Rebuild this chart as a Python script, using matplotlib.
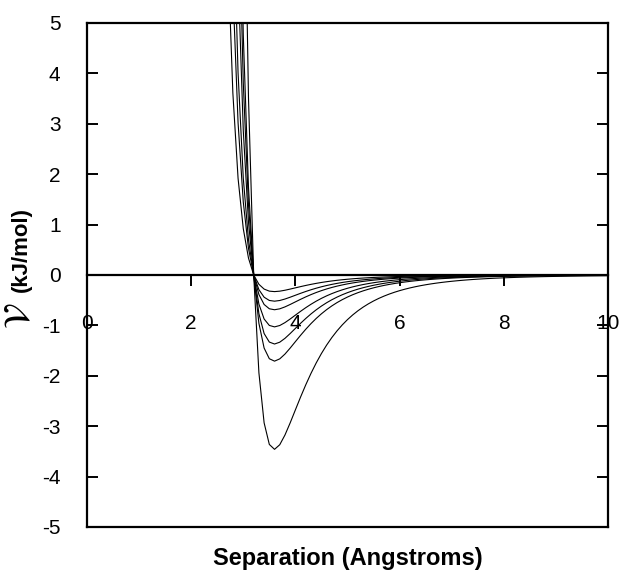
import numpy as np
import matplotlib
matplotlib.use("Agg")
import matplotlib.pyplot as plt

plt.rcParams['font.family'] = ['Liberation Sans', 'DejaVu Sans']
plt.rcParams['mathtext.fontset'] = 'stix'
plt.rcParams['axes.unicode_minus'] = False

# Lennard-Jones pair potentials: shared sigma, one well depth per curve
sigma = 3.2                                           # Angstroms
well_depths = [0.33, 0.52, 0.69, 1.03, 1.37, 1.71, 3.46]  # kJ/mol
r = np.arange(2.5, 10.01, 0.1)

x_ticks = [0, 2, 4, 6, 8, 10]
y_ticks = [-5, -4, -3, -2, -1, 0, 1, 2, 3, 4, 5]

fig = plt.figure(figsize=(6.19, 5.8), dpi=100)
ax = fig.add_axes([0.1405, 0.0914, 0.8417, 0.869])

for eps in well_depths:
    sr6 = (sigma / r) ** 6
    v = 4 * eps * (sr6 ** 2 - sr6)
    ax.plot(r, v, color='black', lw=0.8)

ax.set_xlim(0, 10)
ax.set_ylim(-5, 5)
ax.set_xticks(x_ticks)
ax.set_yticks(y_ticks)

# x axis runs through zero, box frame kept around the plot
ax.spines['bottom'].set_position(('data', 0))
for s in ax.spines.values():
    s.set_linewidth(1.6)
ax.axhline(-5, color='black', lw=1.6, clip_on=False)

ax.tick_params(axis='x', direction='out', length=8, width=1.4,
               pad=20, labelsize=15)
ax.tick_params(axis='y', direction='in', length=8, width=1.4,
               pad=19, labelsize=15, right=True)

ax.set_xlabel('Separation (Angstroms)', fontsize=17, fontweight='bold')
ax.xaxis.set_label_coords(0.5, -0.04)

# y label: large script V followed by the units
ax.set_ylabel('(kJ/mol)', fontsize=16, fontweight='bold')
ax.yaxis.set_label_coords(-0.105, 0.55)
ax.text(-0.129, 0.42, r'$\mathcal{V}$', transform=ax.transAxes,
        rotation=90, fontsize=26, ha='center', va='center')

fig.savefig('out.png', dpi=100)
